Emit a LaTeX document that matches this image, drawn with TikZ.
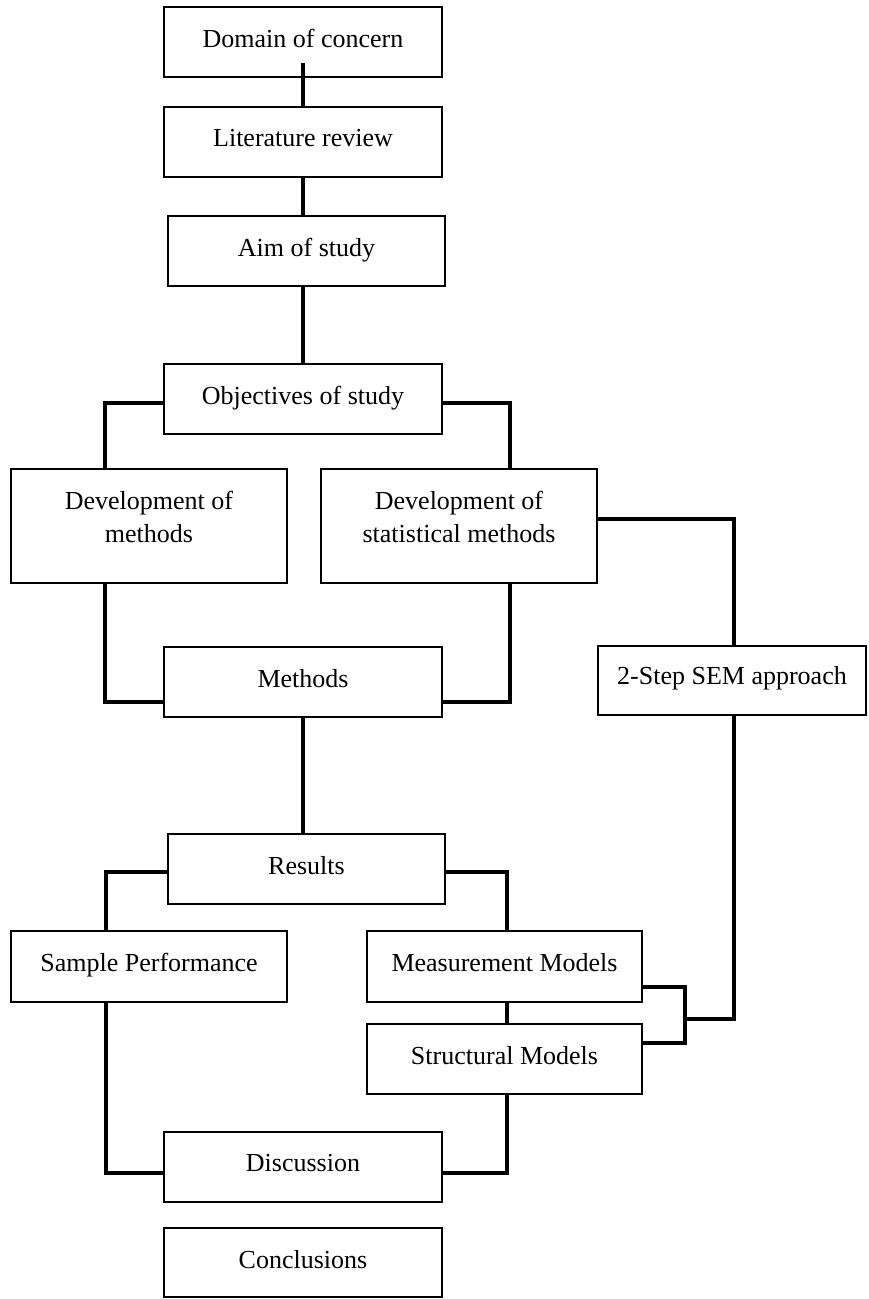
\documentclass[tikz,border=0pt]{standalone}
\usepackage{fontspec}
\setmainfont{Liberation Serif}
\begin{document}
\begin{tikzpicture}[x=1pt,y=-1pt,
  box/.style={draw, line width=1.3pt, rectangle, inner sep=0pt,
              minimum width=278pt, minimum height=70pt},
  lbl/.style={anchor=north, yshift=-22.5pt, inner sep=0pt, align=center,
              font=\fontsize{26}{33}\selectfont},
  conn/.style={line width=3.4pt, line join=miter, line cap=rect}]
\useasboundingbox (0,0) rectangle (868,1299);

% boxes of the flow
\node[box, label={[lbl]north:Domain of concern}] (dom) at (303,42) {};
\node[box, label={[lbl]north:Literature review}] (lit) at (303,142) {};
\node[box, minimum width=277pt, label={[lbl]north:Aim of study}] (aim) at (306.5,251) {};
\node[box, label={[lbl]north:Objectives of study}] (obj) at (303,399) {};
\node[box, minimum width=276pt, minimum height=114pt,
      label={[lbl]north:Development of\\methods}] (devm) at (149,526) {};
\node[box, minimum width=276pt, minimum height=114pt,
      label={[lbl]north:Development of\\statistical methods}] (devs) at (459,526) {};
\node[box, label={[lbl]north:Methods}] (meth) at (303,682) {};
\node[box, minimum width=268pt, minimum height=69pt,
      label={[lbl,yshift=1.5pt]north:2-Step SEM approach}] (sem) at (732,680.5) {};
\node[box, minimum width=277pt, label={[lbl]north:Results}] (res) at (306.5,869) {};
\node[box, minimum width=276pt, minimum height=71pt,
      label={[lbl]north:Sample Performance}] (samp) at (149,966.5) {};
\node[box, minimum width=275pt, minimum height=71pt,
      label={[lbl]north:Measurement Models}] (meas) at (504.5,966.5) {};
\node[box, minimum width=275pt,
      label={[lbl]north:Structural Models}] (struc) at (504.5,1059) {};
\node[box, label={[lbl]north:Discussion}] (disc) at (303,1167) {};
\node[box, minimum height=69pt, label={[lbl]north:Conclusions}] (concl) at (303,1262.5) {};

% bracket joining the two model boxes
\coordinate (bt) at (685,987);
\coordinate (bb) at (685,1043);
\coordinate (bm) at (685,1019);

% connectors
\draw[conn] ([yshift=13pt]dom.south) -- (lit.north);
\draw[conn] (lit.south) -- (lit.south |- aim.north);
\draw[conn] (aim.south -| obj.north) -- (obj.north);
\draw[conn] ([yshift=-4pt]obj.west) -| ([xshift=-44pt]devm.north);
\draw[conn] ([yshift=-4pt]obj.east) -| ([xshift=51pt]devs.north);
\draw[conn] ([xshift=-44pt]devm.south) |- ([yshift=-20pt]meth.west);
\draw[conn] ([xshift=51pt]devs.south) |- ([yshift=-20pt]meth.east);
\draw[conn] ([yshift=7pt]devs.east) -| ([xshift=2pt]sem.north);
\draw[conn] (meth.south) -- (meth.south |- res.north);
\draw[conn] ([yshift=-3pt]res.west) -| ([xshift=-43pt]samp.north);
\draw[conn] ([yshift=-3pt]res.east) -| ([xshift=2.5pt]meas.north);
\draw[conn] ([xshift=2.5pt]meas.south) -- ([xshift=2.5pt]struc.north);
\draw[conn] (meas.east |- bt) -- (bt) -- (bb) -- (struc.east |- bb);
\draw[conn] ([xshift=2pt]sem.south) |- (bm);
\draw[conn] ([xshift=-43pt]samp.south) |- ([yshift=-6pt]disc.west);
\draw[conn] ([xshift=2.5pt]struc.south) |- ([yshift=-6pt]disc.east);
\end{tikzpicture}
\end{document}
